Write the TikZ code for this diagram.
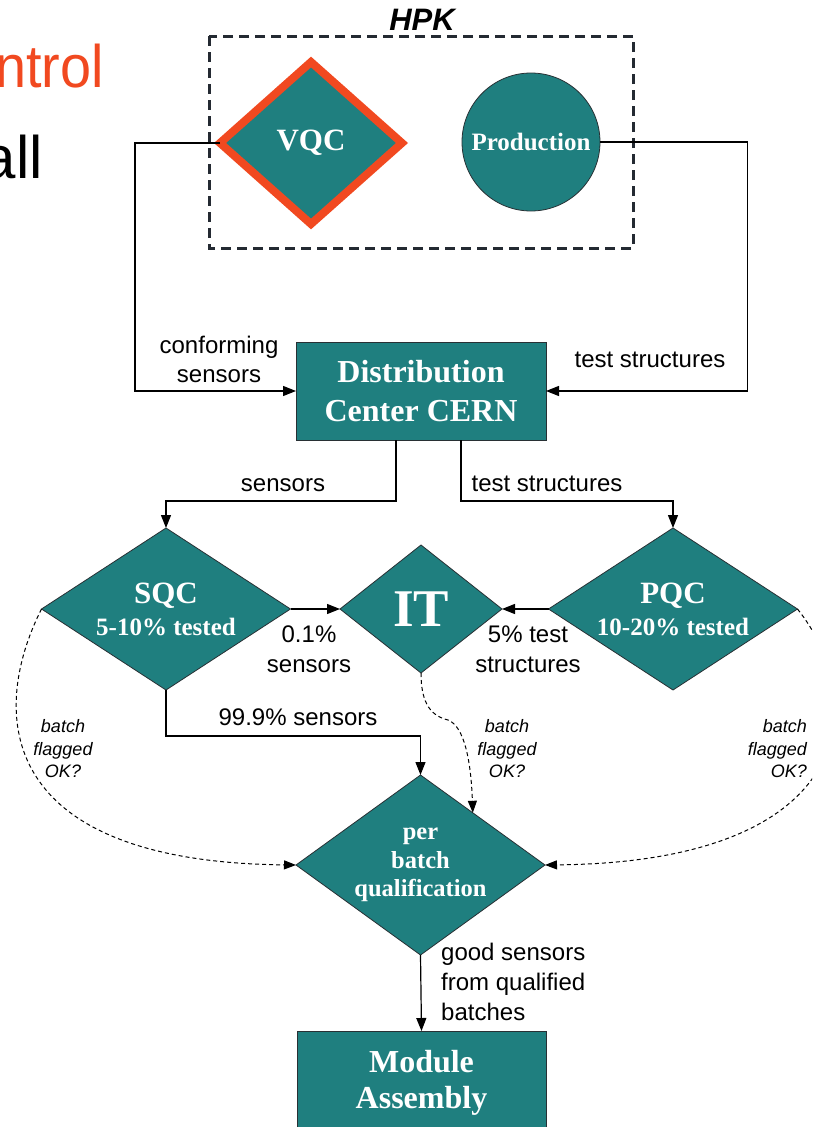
\documentclass[tikz,border=0pt]{standalone}
\usepackage{fontspec}
\setmainfont{Liberation Serif}
\newfontfamily\helv{Liberation Sans}
\usetikzlibrary{shapes.geometric,arrows.meta,calc}
\definecolor{tealfill}{RGB}{31,127,127}
\definecolor{hot}{RGB}{241,73,32}
\definecolor{edge}{RGB}{40,48,52}
\definecolor{frame}{RGB}{36,42,50}
\tikzset{
  dia/.style={diamond, draw=edge, line width=0.8pt, fill=tealfill, text=white,
    inner sep=0pt, outer sep=0pt, align=center, font=\bfseries},
  blk/.style={rectangle, draw=edge, line width=0.8pt, fill=tealfill, text=white,
    inner sep=0pt, outer sep=0pt, align=center, font=\bfseries},
  conn/.style={line width=1.2pt, -{Triangle[length=13pt,width=10pt]}},
  flag/.style={line width=1pt, dash pattern=on 4pt off 3pt,
    -{Triangle[length=12pt,width=9pt]}},
  lab/.style={anchor=base, inner sep=0pt, font=\helv\fontsize{24}{29}\selectfont},
  note/.style={anchor=base, inner sep=0pt, font=\helv\itshape\fontsize{18}{23}\selectfont},
  big/.style={anchor=base east, inner sep=0pt, font=\helv\fontsize{60}{60}\selectfont},
}
\begin{document}
\begin{tikzpicture}[x=1pt,y=-1pt]
\useasboundingbox (0,0) rectangle (812,1127);
\clip (0,0) rectangle (812,1127);

% slide title fragments
\node[big, text=hot] (ttl) at (104,87) {\scalebox{0.93}[1]{ntrol}};
\node[big] (sub) at (43,178) {all};

% vendor frame
\draw[frame, line width=3pt, dash pattern=on 10pt off 6pt] (209,36) rectangle (633,248);
\node[anchor=base, inner sep=0pt, font=\helv\bfseries\itshape\fontsize{31}{31}\selectfont] (hpk) at (422,30) {HPK};

% process nodes
\node[dia, draw=hot, line width=8pt, minimum width=182pt, minimum height=162pt,
      font=\bfseries\fontsize{31}{31}\selectfont] (vqc) at (311,143) {VQC};
\node[circle, draw=edge, line width=0.8pt, fill=tealfill, text=white, inner sep=0pt,
      minimum size=138pt, font=\bfseries\fontsize{25}{28}\selectfont] (prod) at (531,142) {Production};
\node[blk, minimum width=250pt, minimum height=98pt,
      font=\bfseries\fontsize{32}{39}\selectfont] (dist) at (421,391) {Distribution\\Center CERN};
\node[dia, aspect=1.54, minimum width=249pt, minimum height=162pt,
      font=\bfseries\fontsize{25}{32}\selectfont] (sqc) at (166,609)
      {{\fontsize{31}{32}\selectfont SQC}\\5-10\% tested};
\node[dia, aspect=1.27, minimum width=162pt, minimum height=128pt,
      font=\bfseries\fontsize{53}{53}\selectfont] (it) at (421,609) {IT};
\node[dia, aspect=1.54, minimum width=249pt, minimum height=162pt,
      font=\bfseries\fontsize{25}{32}\selectfont] (pqc) at (673,609)
      {{\fontsize{31}{32}\selectfont PQC}\\10-20\% tested};
\node[dia, aspect=1.39, minimum width=249pt, minimum height=180pt,
      font=\bfseries\fontsize{24.5}{28.5}\selectfont] (pbq) at (420.5,865)
      {per\\batch\\qualification};
\node[blk, minimum width=249pt, minimum height=104pt,
      font=\bfseries\fontsize{32}{36}\selectfont] (mod) at (421.5,1083) {Module\\Assembly};

% flow connectors
\draw[conn] (vqc.west) -- ++(-85,0) |- (dist.west);
\draw[conn] (prod.east) -- ++(147,0) |- (dist.east);
\draw[conn] ([xshift=-25pt]dist.south) -- ++(0,61) -| (sqc.north);
\draw[conn] ([xshift=40pt]dist.south) -- ++(0,61) -| (pqc.north);
\draw[conn] (sqc.east) -- (it.west);
\draw[conn] (pqc.west) -- (it.east);
\draw[conn] (sqc.south) -- ++(0,46) -| (pbq.north);
\draw[conn] (pbq.south) -- (mod.north);

% batch flags
\coordinate (pe) at ($(pbq.north)!0.42!(pbq.east)$);
\draw[flag] (sqc.west) .. controls (-12,715) and (-2,862) .. (pbq.west);
\draw[flag] (it.south) .. controls (421,705) and (432,716) .. (448,720)
                       .. controls (464,726) and (471,760) .. (pe);
\draw[flag] (pqc.east) .. controls (870,700) and (860,862) .. (pbq.east);

% connector labels
\node[lab] (l1) at (219,353) {conforming};
\node[lab] (l2) at (219,382) {sensors};
\node[lab] (l3) at (650,367) {test structures};
\node[lab] (l4) at (283,491) {sensors};
\node[lab] (l5) at (547,491) {test structures};
\node[lab] (l6) at (309,642) {0.1\%};
\node[lab] (l7) at (309,672) {sensors};
\node[lab] (l8) at (528,642) {5\% test};
\node[lab] (l9) at (528,672) {structures};
\node[lab] (l10) at (298,725) {99.9\% sensors};
\node[lab, anchor=base west] (l11) at (441,960) {good sensors};
\node[lab, anchor=base west] (l12) at (441,990) {from qualified};
\node[lab, anchor=base west] (l13) at (441,1020) {batches};

% flag notes
\node[note] (a1) at (63,732) {batch};
\node[note] (a2) at (63,755) {flagged};
\node[note] (a3) at (63,777) {OK?};
\node[note] (b1) at (507,732) {batch};
\node[note] (b2) at (507,755) {flagged};
\node[note] (b3) at (507,777) {OK?};
\node[note, anchor=base east] (c1) at (807,732) {batch};
\node[note, anchor=base east] (c2) at (807,755) {flagged};
\node[note, anchor=base east] (c3) at (807,777) {OK?};
\end{tikzpicture}
\end{document}
